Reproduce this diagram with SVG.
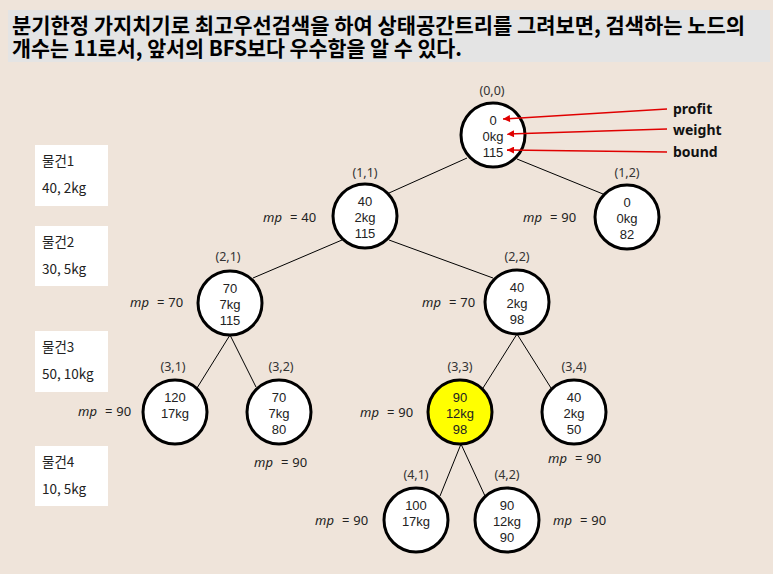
<svg xmlns="http://www.w3.org/2000/svg" width="773" height="574" viewBox="0 0 773 574">
<defs>
<style>
.node circle{fill:#fff;stroke:#000;stroke-width:3}
.node text{font-family:"Liberation Sans","Noto Sans",sans-serif;font-size:13px;fill:#222;text-anchor:middle}
.node text.lb{font-family:"Noto Sans",sans-serif;font-size:12.5px;fill:#333}
.edge{stroke:#000;stroke-width:1;fill:none}
.mp{font-family:"Noto Sans",sans-serif;font-size:13px;fill:#222}
.i{font-style:italic}
.item rect{fill:#fff}
.item text{font-family:"Noto Sans CJK KR","Noto Sans",sans-serif;font-size:13.5px;fill:#222}
.arr{stroke:#e00000;stroke-width:1.5;fill:none;marker-end:url(#ah)}
.ann{font-family:"Noto Sans",sans-serif;font-size:14px;font-weight:bold;fill:#111}
.title{font-family:"Noto Sans CJK KR",sans-serif;font-size:21px;font-weight:bold;fill:#000}
</style>
<marker id="ah" viewBox="0 0 10 10" refX="10" refY="5" markerUnits="userSpaceOnUse" markerWidth="9" markerHeight="7" orient="auto">
<path d="M0,0 L10,5 L0,10 z" fill="#e00000"/>
</marker>
</defs>
<rect width="773" height="574" fill="#efe4da"/>
<g id="title">
<rect x="8" y="10" width="762" height="52" fill="#e4e4e4"/>
<text class="title"><tspan x="12" y="33" textLength="733" lengthAdjust="spacingAndGlyphs">분기한정 가지치기로 최고우선검색을 하여 상태공간트리를 그려보면, 검색하는 노드의</tspan><tspan x="12" y="56" textLength="450" lengthAdjust="spacingAndGlyphs">개수는 11로서, 앞서의 BFS보다 우수함을 알 수 있다.</tspan></text>
</g>
<g id="items">
<g class="item" id="item1"><rect x="35" y="145" width="73" height="61"/><text x="42" y="166">물건1</text><text x="42" y="193">40, 2kg</text></g>
<g class="item" id="item2"><rect x="35" y="226" width="73" height="60"/><text x="42" y="247">물건2</text><text x="42" y="274">30, 5kg</text></g>
<g class="item" id="item3"><rect x="35" y="331" width="73" height="61"/><text x="42" y="352">물건3</text><text x="42" y="379">50, 10kg</text></g>
<g class="item" id="item4"><rect x="35" y="446" width="73" height="60"/><text x="42" y="467">물건4</text><text x="42" y="494">10, 5kg</text></g>
</g>
<g id="connectors">
<line class="edge" x1="467" y1="158" x2="389" y2="193"/>
<line class="edge" x1="517" y1="159" x2="603" y2="194"/>
<line class="edge" x1="342" y1="240" x2="253" y2="278"/>
<line class="edge" x1="389" y1="240" x2="493" y2="278"/>
<line class="edge" x1="230" y1="335" x2="197" y2="388"/>
<line class="edge" x1="230" y1="335" x2="256" y2="387"/>
<line class="edge" x1="517" y1="334" x2="483" y2="388"/>
<line class="edge" x1="517" y1="334" x2="551" y2="388"/>
<line class="edge" x1="461" y1="444" x2="440" y2="496"/>
<line class="edge" x1="461" y1="444" x2="485" y2="496"/>
</g>
<g class="node" id="n00"><text class="lb" x="492" y="95">(0,0)</text><circle cx="493" cy="135" r="32"/><text x="493" y="125">0</text><text x="493" y="141">0kg</text><text x="493" y="157">115</text></g>
<g class="node" id="n11"><text class="lb" x="365" y="177">(1,1)</text><circle cx="365" cy="216" r="32"/><text x="365" y="206">40</text><text x="365" y="222">2kg</text><text x="365" y="238">115</text></g>
<g class="node" id="n12"><text class="lb" x="627" y="177">(1,2)</text><circle cx="627" cy="217" r="32"/><text x="627" y="207">0</text><text x="627" y="223">0kg</text><text x="627" y="239">82</text></g>
<g class="node" id="n21"><text class="lb" x="228" y="261">(2,1)</text><circle cx="230" cy="303" r="32"/><text x="230" y="293">70</text><text x="230" y="309">7kg</text><text x="230" y="325">115</text></g>
<g class="node" id="n22"><text class="lb" x="517" y="261">(2,2)</text><circle cx="517" cy="302" r="32"/><text x="517" y="292">40</text><text x="517" y="308">2kg</text><text x="517" y="324">98</text></g>
<g class="node" id="n31"><text class="lb" x="173" y="371">(3,1)</text><circle cx="175" cy="412" r="32"/><text x="175" y="402">120</text><text x="175" y="418">17kg</text></g>
<g class="node" id="n32"><text class="lb" x="281" y="371">(3,2)</text><circle cx="279" cy="412" r="32"/><text x="279" y="402">70</text><text x="279" y="418">7kg</text><text x="279" y="434">80</text></g>
<g class="node" id="n33"><text class="lb" x="460" y="371">(3,3)</text><circle cx="460" cy="412" r="32" style="fill:#ffff00"/><text x="460" y="402">90</text><text x="460" y="418">12kg</text><text x="460" y="434">98</text></g>
<g class="node" id="n34"><text class="lb" x="574" y="371">(3,4)</text><circle cx="574" cy="412" r="32"/><text x="574" y="402">40</text><text x="574" y="418">2kg</text><text x="574" y="434">50</text></g>
<g class="node" id="n41"><text class="lb" x="416" y="479">(4,1)</text><circle cx="416" cy="520" r="32"/><text x="416" y="510">100</text><text x="416" y="526">17kg</text></g>
<g class="node" id="n42"><text class="lb" x="507" y="479">(4,2)</text><circle cx="507" cy="520" r="32"/><text x="507" y="510">90</text><text x="507" y="526">12kg</text><text x="507" y="542">90</text></g>
<g id="mp-labels">
<text class="mp" x="263" y="222"><tspan class="i">mp</tspan><tspan dx="8">=</tspan><tspan dx="4">40</tspan></text>
<text class="mp" x="523" y="222"><tspan class="i">mp</tspan><tspan dx="8">=</tspan><tspan dx="4">90</tspan></text>
<text class="mp" x="130" y="307"><tspan class="i">mp</tspan><tspan dx="8">=</tspan><tspan dx="4">70</tspan></text>
<text class="mp" x="422" y="307"><tspan class="i">mp</tspan><tspan dx="8">=</tspan><tspan dx="4">70</tspan></text>
<text class="mp" x="78" y="416"><tspan class="i">mp</tspan><tspan dx="8">=</tspan><tspan dx="4">90</tspan></text>
<text class="mp" x="254" y="467"><tspan class="i">mp</tspan><tspan dx="8">=</tspan><tspan dx="4">90</tspan></text>
<text class="mp" x="360" y="417"><tspan class="i">mp</tspan><tspan dx="8">=</tspan><tspan dx="4">90</tspan></text>
<text class="mp" x="548" y="463"><tspan class="i">mp</tspan><tspan dx="8">=</tspan><tspan dx="4">90</tspan></text>
<text class="mp" x="315" y="525"><tspan class="i">mp</tspan><tspan dx="8">=</tspan><tspan dx="4">90</tspan></text>
<text class="mp" x="553" y="525"><tspan class="i">mp</tspan><tspan dx="8">=</tspan><tspan dx="4">90</tspan></text>
</g>
<g id="annotations">
<line class="arr" x1="667" y1="109" x2="503" y2="119"/>
<line class="arr" x1="667" y1="129" x2="507" y2="134"/>
<line class="arr" x1="667" y1="152" x2="507" y2="150"/>
<text class="ann" x="673" y="114">profit</text>
<text class="ann" x="673" y="135">weight</text>
<text class="ann" x="673" y="157">bound</text>
</g>
</svg>
